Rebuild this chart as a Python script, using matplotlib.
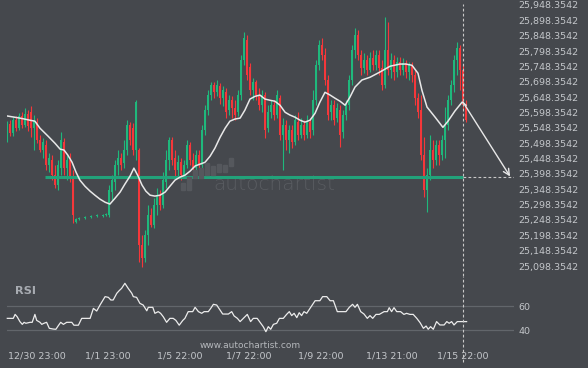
import numpy as np
import matplotlib
matplotlib.use("Agg")
import matplotlib.pyplot as plt
from matplotlib.patches import Rectangle

# ---------------- data ----------------
N = None
opens = [25514,25560,25531,25573,25547,25587,25557,25593,25599,25547,
         25567,25508,25476,25492,25427,25443,25394,25362,25417,25501,
         25417,25443,25384,25241,25251,N,25254,N,25257,N,
         25261,N,25261,25264,25264,25339,25371,25427,25449,25433,
         25476,25557,25547,25476,25476,25166,25124,25199,25264,25231,
         25296,25329,25296,25371,25443,25508,25449,25411,25436,25394,
         25427,25492,25443,25417,25459,25427,25541,25606,25655,25687,
         25664,25684,25645,25664,25606,25638,25612,25599,25655,25769,
         25834,25746,25671,25697,25655,25622,25655,25547,25599,25622,
         25590,25645,25524,25557,25508,25541,25501,25567,25524,25557,
         25524,25567,25541,25638,25752,25817,25785,25704,25599,25622,
         25580,25606,25534,25590,25622,25704,25801,25850,25785,25743,
         25769,25736,25775,25752,25785,25743,25687,25801,25736,25769,
         25729,25762,25736,25759,25729,25752,25720,25645,25606,25459,
         25345,25394,25476,25443,25492,25459,25508,25557,25638,25687,
         25769,25808,25736,25622]
highs = [25570,25573,25583,25587,25596,25599,25612,25606,25619,25590,
         25580,25524,25514,25508,25466,25459,25427,25443,25534,25514,
         25459,25466,25411,25254,25257,N,25261,N,25264,N,
         25267,N,25267,25270,25362,25394,25443,25476,25466,25508,
         25573,25567,25564,25638,25482,25199,25215,25296,25287,25319,
         25352,25345,25404,25476,25517,25517,25476,25459,25449,25443,
         25508,25501,25466,25476,25476,25557,25622,25671,25697,25697,
         25704,25694,25684,25677,25655,25651,25638,25671,25785,25860,
         25850,25759,25710,25704,25677,25671,25664,25622,25638,25638,
         25671,25655,25580,25573,25557,25557,25590,25599,25580,25573,
         25590,25580,25671,25769,25834,25840,25808,25720,25638,25638,
         25629,25622,25606,25638,25720,25817,25873,25866,25801,25791,
         25785,25795,25801,25801,25801,25769,25909,25892,25791,25785,
         25778,25778,25775,25769,25762,25762,25736,25661,25655,25517,
         25417,25524,25508,25508,25508,25524,25615,25655,25704,25785,
         25827,25817,25752,25638]
lows = [25501,25521,25521,25538,25541,25547,25550,25538,25517,25476,
        25498,25469,25449,25411,25404,25378,25352,25345,25394,25394,
        25378,25371,25238,25238,25248,N,25251,N,25254,N,
        25257,N,25257,25261,25257,25313,25345,25394,25411,25417,
        25459,25492,25459,25443,25111,25095,25111,25166,25225,25221,
        25264,25280,25287,25352,25411,25427,25384,25384,25378,25384,
        25417,25427,25394,25404,25411,25417,25524,25590,25638,25645,
        25651,25625,25619,25580,25590,25580,25573,25587,25638,25752,
        25704,25655,25638,25638,25606,25599,25514,25534,25580,25573,
        25580,25508,25411,25476,25466,25482,25492,25508,25514,25508,
        25514,25514,25524,25622,25736,25769,25687,25573,25573,25557,
        25567,25485,25514,25573,25606,25687,25775,25769,25720,25726,
        25720,25729,25736,25736,25720,25671,25677,25720,25710,25704,
        25713,25720,25720,25710,25704,25697,25622,25580,25443,25323,
        25274,25378,25417,25427,25427,25443,25449,25541,25622,25664,
        25720,25671,25606,25567]
closes = [25560,25531,25573,25547,25587,25557,25593,25554,25547,25573,
          25508,25476,25501,25427,25449,25394,25362,25427,25508,25417,
          25443,25384,25264,25251,25254,N,25257,N,25261,N,
          25264,N,25264,25267,25345,25378,25427,25449,25427,25476,
          25557,25508,25476,25632,25166,25124,25199,25264,25231,25296,
          25329,25296,25378,25443,25508,25443,25411,25436,25394,25427,
          25492,25443,25417,25459,25427,25541,25606,25655,25687,25664,
          25687,25645,25671,25599,25638,25612,25590,25655,25769,25841,
          25720,25671,25697,25655,25622,25655,25541,25599,25622,25590,
          25655,25524,25557,25508,25541,25501,25573,25524,25557,25524,
          25567,25534,25638,25752,25817,25785,25704,25590,25622,25573,
          25612,25524,25590,25622,25704,25801,25850,25785,25743,25769,
          25736,25775,25752,25785,25743,25687,25801,25736,25769,25729,
          25762,25736,25759,25729,25752,25720,25645,25599,25459,25345,
          25394,25476,25443,25492,25459,25508,25557,25638,25687,25769,
          25808,25736,25622,25573]

ma_t = [0, 4.3, 7.7, 9.3, 11, 13.7, 16, 17.7, 19, 20.3, 21.7, 23, 24.3, 26, 27.7,
        29.3, 31, 32.7, 34.3, 36, 37.7, 39.3, 41, 42.3, 43.7, 45, 46.3, 47.7, 49.3, 51,
        52.7, 54.3, 56, 57.7, 59.3, 61, 62.7, 64.3, 66, 67.7, 69.3, 71, 72.7, 74.3, 76,
        77.7, 79.3, 81, 82.7, 84.3, 86, 87.7, 89.3, 91, 92.7, 94.3, 96, 97.7, 99.3, 101,
        102.7, 104.3, 106, 107.7, 109.3, 111, 112.7, 114.3, 116, 118.3, 121, 124.3,
        127.7, 131, 133, 135, 137, 138.3, 140, 142.7, 145.3, 147, 149.3, 151.7, 153]
ma_v = [25587, 25580, 25573, 25570, 25547, 25521, 25498, 25479, 25476, 25459,
        25436, 25404, 25378, 25358, 25342, 25329, 25316, 25306, 25300, 25319,
        25339, 25365, 25391, 25417, 25391, 25362, 25342, 25329, 25326, 25329,
        25339, 25358, 25378, 25388, 25394, 25407, 25424, 25430, 25436, 25456,
        25482, 25517, 25547, 25570, 25577, 25580, 25606, 25642, 25651, 25655,
        25642, 25638, 25635, 25622, 25599, 25590, 25583, 25573, 25567, 25573,
        25596, 25632, 25664, 25655, 25645, 25635, 25622, 25648, 25681, 25704,
        25713, 25730, 25749, 25756, 25756, 25752, 25726, 25671, 25616, 25583,
        25550, 25570, 25603, 25632, 25622]

rsi_t = [0.1, 2.1, 2.7, 3.4, 4.3, 5.1, 5.7, 6.3, 7.7, 8.4,
         9.3, 9.9, 11, 11.6, 12.3, 13.2, 14.1, 15.4, 16.3, 17.1,
         17.9, 18.8, 19.9, 21.6, 22.3, 23.8, 24.9, 27.7, 28.8, 29.9,
         31, 32.7, 33.8, 34.6, 35.4, 36.6, 37.4, 38.2, 39.3, 40.4,
         41.6, 42.1, 43.2, 44.3, 45.4, 46.6, 47.1, 48.6, 49.3, 50.4,
         51.2, 52.1, 53.2, 54.3, 55.4, 56.3, 57.4, 58.6, 59.3, 60.4,
         61.9, 62.7, 63.8, 64.9, 65.7, 67.1, 67.9, 68.8, 69.9, 71,
         71.9, 73.8, 74.9, 75.7, 76.8, 77.7, 78.8, 80.1, 81.2, 82.1,
         83.4, 84.6, 85.4, 86.3, 87.1, 87.9, 88.8, 89.9, 90.8, 92.1,
         93.2, 94.1, 94.9, 95.7, 96.6, 97.4, 98.2, 99, 99.9, 101,
         101.9, 102.7, 104.3, 105.2, 106.6, 107.7, 108.8, 110.1, 113, 114.1,
         115.2, 116, 116.8, 117.9, 119, 120.1, 121, 121.9, 123, 124.1,
         125.7, 126.8, 127.4, 128.2, 129, 129.9, 131.2, 132.3, 133.2, 134.3,
         135.4, 136.6, 137.7, 138.8, 139.7, 140.4, 141.2, 142.1, 143.2, 144.3,
         145.7, 146.6, 147.4, 148.2, 149, 150.1, 151, 153.2]
rsi_v = [49.7, 49.7, 53, 51, 47, 44.7, 46.4, 45.6, 46.4, 46.4,
         53, 48, 46.4, 44.7, 45.6, 46.4, 41.4, 40.8, 40.6, 43.6,
         46.4, 44.7, 46.4, 46.4, 44, 44, 49.7, 49.7, 58, 55.8,
         60.8, 67.8, 67.2, 65, 65, 70.6, 72.8, 74.7, 78.9, 74.7,
         70.6, 67.8, 67.2, 62.2, 60.8, 56, 58.9, 58.9, 53.9, 55.3,
         53.9, 51, 46.4, 49.7, 49.7, 48, 44, 48, 49.7, 55.3,
         55.3, 58.9, 55.3, 53.9, 55.3, 55.3, 58, 61.4, 60.8, 56.7,
         53.3, 53.3, 55.3, 51.7, 49.7, 47, 49.7, 53, 47, 49.7,
         49.7, 45.6, 42.8, 38.6, 42.8, 40.6, 44.7, 45.6, 49.7, 49.7,
         53, 55.3, 52, 53.9, 50.3, 54.4, 52, 55.3, 53.9, 58,
         61.4, 64.4, 64.4, 67.8, 67.8, 64.4, 64.4, 55.3, 55.3, 58.9,
         61.4, 58.9, 61.4, 55.3, 53.3, 49.7, 52, 49.7, 53, 53,
         55.3, 55.3, 58.6, 55.3, 58.6, 55.3, 55.3, 53, 53.9, 53,
         53, 49.7, 46.1, 41.4, 43.3, 40.6, 42.8, 40.6, 47, 44.2,
         44.2, 47, 45.6, 47, 44.2, 47, 47, 47]

level_price = 25388
level_start = 12.7
now_t = 152
target_t = 167.7
target_price = 25390
arrow_start_price = 25632

price_ticks = [25098.3542 + 50 * k for k in range(18)]
time_ticks = [10, 33.7, 57.7, 80.7, 104.7, 128.3, 152]
time_labels = ["12/30 23:00", "1/1 23:00", "1/5 22:00", "1/7 22:00",
               "1/9 22:00", "1/13 21:00", "1/15 22:00"]
rsi_levels = [40, 60]

# ---------------- style ----------------
BG = "#45484d"
GREEN = "#1fb87c"
RED = "#f5373a"
LEVEL = "#22a27a"
TXT = "#c3c6ca"
plt.rcParams['font.family'] = ['DejaVu Sans']

W, H = 588, 368
fig = plt.figure(figsize=(W / 100, H / 100), dpi=100, facecolor=BG)

def fx(px):
    return px / W

def fy(py):
    return 1 - py / H

L, R = 7, 514
ax = fig.add_axes([fx(L), fy(276), fx(R - L), (276 - 0) / H])
axr = fig.add_axes([fx(L), fy(345), fx(R - L), (345 - 276) / H])
for a in (ax, axr):
    a.set_facecolor(BG)
    for s in a.spines.values():
        s.set_visible(False)
    a.set_xlim(0, 169)

ax.set_ylim(25065.8, 25964.6)
axr.set_ylim(27.5, 85)

# watermark
ax.text(0.527, 0.333, "autochartist", transform=ax.transAxes, ha="center",
        va="center", fontsize=14.5, color="#595c61", fontweight="light",
        family="DejaVu Sans", zorder=0)
icon = [(181, 183, 190), (187, 177, 190), (193, 170, 178), (199, 168, 178),
        (205, 163, 175), (211, 166, 175), (217, 164, 172), (223, 165, 172),
        (229, 158, 166)]
for x0, yt, yb in icon:
    fig.patches.append(Rectangle((fx(x0), fy(yb)), 3.5 / W, (yb - yt) / H,
                                 transform=fig.transFigure, color="#55585d",
                                 zorder=0))

# candles
t = np.arange(len(closes))
for i in t:
    o, h, l, c = opens[i], highs[i], lows[i], closes[i]
    if o is None:
        continue
    col = GREEN if c >= o else RED
    ax.vlines(i, l, h, color=col, lw=0.8, zorder=2)
    bot = min(o, c)
    hgt = max(abs(c - o), 3)
    ax.bar(i, hgt, bottom=bot, width=0.62, color=col, lw=0, zorder=2)

# level line and projections
ax.hlines(level_price, level_start, now_t, color=LEVEL, lw=2.2, zorder=3)
ax.hlines(level_price, now_t, 169.5, color="#c9c9c9", lw=0.8,
          linestyles=(0, (2.5, 2)), zorder=3)
ax.plot(ma_t, ma_v, color="#e8e8e8", lw=1.1, zorder=4)
ax.annotate("", xy=(target_t, target_price), xytext=(now_t, arrow_start_price),
            arrowprops=dict(arrowstyle="->", color="#e8e8e8", lw=1.0,
                            mutation_scale=11, shrinkA=0, shrinkB=0), zorder=5)
ax.axvline(now_t, ymin=0, ymax=0.985, color="#c9c9c9", lw=0.8,
           linestyle=(0, (2.5, 2)), zorder=5)

# price axis
ax.set_xticks([])
ax.yaxis.tick_right()
ax.set_yticks(price_ticks)
ax.set_yticklabels([f"{v:,.4f}" for v in price_ticks])
ax.tick_params(axis="y", length=0, pad=3, labelsize=6.8, labelcolor=TXT)

# RSI panel
for lv in rsi_levels:
    axr.axhline(lv, color="#62666b", lw=0.9, zorder=1)
axr.plot(rsi_t, rsi_v, color="#ececec", lw=0.9, zorder=3, clip_on=False)
axr.axvline(now_t, ymin=-0.25, ymax=1, color="#c9c9c9", lw=0.8,
            linestyle=(0, (2.5, 2)), clip_on=False, zorder=4)
axr.yaxis.tick_right()
axr.set_yticks(rsi_levels)
axr.set_yticklabels([str(v) for v in rsi_levels])
axr.tick_params(axis="y", length=0, pad=3, labelsize=6.8, labelcolor=TXT)
axr.set_xticks(time_ticks)
axr.set_xticklabels(time_labels)
axr.tick_params(axis="x", length=0, pad=4.5, labelsize=6.8, labelcolor=TXT)
axr.text(0.016, 0.78, "RSI", transform=axr.transAxes, ha="left", va="center",
         fontsize=8.2, fontweight="bold", color="#a7abb1")

fig.text(fx(250), fy(345), "www.autochartist.com", ha="center", va="center",
         fontsize=6.5, color="#b5b8bc")

fig.savefig("out.png", dpi=100, facecolor=BG)
